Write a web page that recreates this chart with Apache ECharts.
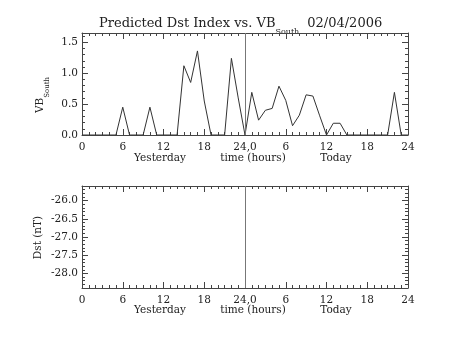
<!DOCTYPE html>
<html><head><meta charset="utf-8">
<script src="https://cdn.jsdelivr.net/npm/echarts@6/dist/echarts.min.js"></script>
<style>html,body{margin:0;padding:0;background:#fff}#c{width:453px;height:340px}</style>
</head><body><div id="c"></div>
<script>
// hours since start of yesterday (0..48)
var hours = [0,1,2,3,4,5,6,7,8,9,10,11,12,13,14,15,16,17,18,19,20,21,22,23,24,
             25,26,27,28,29,30,31,32,33,34,35,36,37,38,39,40,41,42,43,44,45,46,47,48];
var vbSouth = [0,0,0,0,0,0,0.45,0,0,0,0.45,0,0,0,0,1.12,0.85,1.36,0.55,0,0,0,1.24,0.6,0,
               0.69,0.24,0.40,0.43,0.79,0.56,0.15,0.32,0.65,0.63,0.31,0,0.19,0.19,0,0,0,0,0,0,0,0.69,0,0];
var dstValues = []; // no Dst predictions shown
var xTickLabels = ['0','6','12','18','24,0','6','12','18','24'];
var dayMarker = 24;
var titleText = 'Predicted Dst Index vs. VB';
var titleSub = 'South';
var titleDate = '02/04/2006';
var xRowLabels = ['Yesterday','time (hours)','Today'];

var FONT = 'DejaVu Serif';
var INK = '#444';
var chart = echarts.init(document.getElementById('c'), null, {renderer:'canvas'});

var G = [{left:82, top:33, width:326, height:102}, {left:82, top:186, width:326, height:102}];
var VB = [0, 1.65];
var DST = [-28.4, -25.6];

var mctx = document.createElement('canvas').getContext('2d');
function tw(t, font) { mctx.font = font; return mctx.measureText(t).width; }

function xAx(gi, pos, labels) {
  return {
    type:'value', gridIndex:gi, position:pos, min:0, max:48, interval:6,
    axisLine:{show:true, onZero:false, lineStyle:{color:INK, width:1}},
    axisTick:{show:true, inside:true, length:6, lineStyle:{color:INK}},
    minorTick:{show:true, splitNumber:6, length:3, lineStyle:{color:INK}},
    splitLine:{show:false},
    axisLabel:{show:labels, margin:7, color:'#222', fontFamily:FONT, fontSize:10.5,
      formatter:function(v){ return xTickLabels[Math.round(v/6)]; }}
  };
}
function yAx(gi, pos, labels, rng, opts) {
  var a = {
    type:'value', gridIndex:gi, position:pos, min:rng[0], max:rng[1],
    axisLine:{show:true, onZero:false, lineStyle:{color:INK, width:1}},
    axisTick:{show:true, inside:true, length:6, lineStyle:{color:INK}},
    minorTick:{show:true, splitNumber:5, length:3, lineStyle:{color:INK}},
    splitLine:{show:false},
    axisLabel:{show:labels, margin:4, color:'#222', fontFamily:FONT, fontSize:10.5,
      showMinLabel: opts.showMin, showMaxLabel:false,
      formatter:function(v){ return v.toFixed(1); }}
  };
  if (opts.interval) a.interval = opts.interval; else a.splitNumber = 5;
  return a;
}

function txt(x, y, t, size, align, rot) {
  var e = {type:'text', x:x, y:y, style:{text:t, fill:'#222', font:size+'px "DejaVu Serif"', align:align, verticalAlign:'middle'}};
  if (rot) e.rotation = rot;
  return e;
}

var titleFont = '13px "DejaVu Serif"';
var subFont = '8px "DejaVu Serif"';
var tX = 99;
var subX = tX + tw(titleText, titleFont);
var dateX = subX + tw(titleSub, subFont) + 8;

var vbFont = '10.5px "DejaVu Serif"';
var vbW = tw('VB', vbFont), subW = tw(titleSub, '7px "DejaVu Serif"');
var vbCenterY = 95;
var vbStartY = vbCenterY + (vbW + subW) / 2; // text reads bottom-to-top

var option = {
  animation:false,
  backgroundColor:'#fff',
  grid:G,
  xAxis:[xAx(0,'bottom',true), xAx(0,'top',false), xAx(1,'bottom',true), xAx(1,'top',false)],
  yAxis:[yAx(0,'left',true,VB,{interval:0.5, showMin:true}), yAx(0,'right',false,VB,{interval:0.5, showMin:true}),
         yAx(1,'left',true,DST,{showMin:false}), yAx(1,'right',false,DST,{showMin:false})],
  series:[
    {type:'line', xAxisIndex:0, yAxisIndex:0, symbol:'none',
     data:hours.map(function(h,i){return [h, vbSouth[i]];}),
     lineStyle:{color:'#333', width:1},
     markLine:{silent:true, symbol:'none', label:{show:false},
       lineStyle:{color:'#777', width:1, type:'solid'}, data:[{xAxis:dayMarker}]}},
    {type:'line', xAxisIndex:2, yAxisIndex:2, symbol:'none', data:dstValues,
     lineStyle:{color:'#333', width:1},
     markLine:{silent:true, symbol:'none', label:{show:false},
       lineStyle:{color:'#777', width:1, type:'solid'}, data:[{xAxis:dayMarker}]}}
  ],
  graphic:[
    txt(tX, 24, titleText, 13, 'left'),
    txt(subX, 32, titleSub, 8, 'left'),
    txt(dateX, 24, titleDate, 13, 'left'),
    txt(160,158,xRowLabels[0],10.5,'center'), txt(253,158,xRowLabels[1],10.5,'center'), txt(336,158,xRowLabels[2],10.5,'center'),
    txt(160,310.5,xRowLabels[0],10.5,'center'), txt(253,310.5,xRowLabels[1],10.5,'center'), txt(336,310.5,xRowLabels[2],10.5,'center'),
    txt(40, vbStartY, 'VB', 10.5, 'left', Math.PI/2),
    txt(47, vbStartY - vbW, titleSub, 7, 'left', Math.PI/2),
    txt(38.5, 237.5, 'Dst (nT)', 10.5, 'center', Math.PI/2)
  ]
};
chart.setOption(option);
</script></body></html>
